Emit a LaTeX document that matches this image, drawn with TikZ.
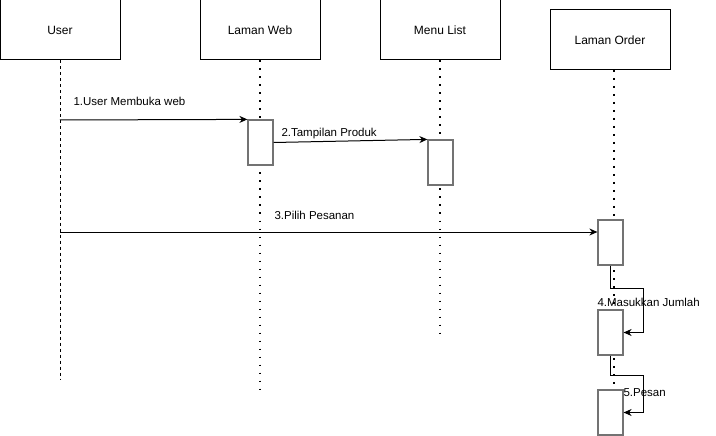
\documentclass[tikz,border=0pt]{standalone}
\usepackage{fontspec}
\setmainfont{Liberation Sans}
\usetikzlibrary{arrows.meta}
\begin{document}
\begin{tikzpicture}[x=1pt,y=-1pt,line width=1pt,
  actor/.style={draw,minimum width=120pt,minimum height=60pt,inner sep=0pt,font=\fontsize{12}{14}\selectfont},
  actbar/.style={draw=black!55,line width=1.2pt,fill=white,minimum width=25pt,minimum height=45pt,inner sep=0pt},
  lifeline/.style={line width=1.6pt,dash pattern=on 1.8pt off 6.2pt},
  msg/.style={-{Stealth[length=8pt,width=7pt]}},
  msglabel/.style={anchor=base west,inner sep=0pt,font=\fontsize{11.5}{13}\selectfont}]
\useasboundingbox (0,0) rectangle (716,436);
% participants
\node[actor] (user) at (60,30) {User};
\node[actor] (web) at (260,30) {Laman Web};
\node[actor] (menu) at (440,30) {Menu List};
\node[actor] (order) at (610,40) {Laman Order};
% lifelines
\coordinate (userend) at (60,380);
\coordinate (webend) at (260,390);
\coordinate (menuend) at (440,340);
\coordinate (ordertop) at (614,70);
\coordinate (orderend) at (614,436);
\draw[dash pattern=on 3pt off 3pt] (user.south) -- (userend);
\draw[lifeline] (web.south) -- (webend);
\draw[lifeline] (menu.south) -- (menuend);
\draw[lifeline] (ordertop) -- (orderend);
% activations
\node[actbar] (webbar) at (260.5,142.5) {};
\node[actbar] (menubar) at (440.5,162.5) {};
\node[actbar] (ordbar1) at (610.5,242.5) {};
\node[actbar] (ordbar2) at (610.5,332.5) {};
\node[actbar] (ordbar3) at (610.5,412.5) {};
% messages
\coordinate (m1) at (60,120);
\coordinate (m3) at (60,232);
\draw[msg] (m1) -- (webbar.north west);
\draw[msg] (webbar.east) -- (menubar.north west);
\draw[msg] (m3) -- (ordbar1.west |- m3);
\draw[msg] (ordbar1.south) -- ++(0,23) -| ([xshift=20pt]ordbar2.east) -- (ordbar2.east);
\draw[msg] (ordbar2.south) -- ++(0,20) -| ([xshift=20pt]ordbar3.east) -- (ordbar3.east);
% labels
\node[msglabel] (l1) at (73,106) {1.User Membuka web};
\node[msglabel] (l2) at (281,136) {2.Tampilan Produk};
\node[msglabel] (l3) at (274,219) {3.Pilih Pesanan};
\node[msglabel] (l4) at (597,306) {4.Masukkan Jumlah};
\node[msglabel] (l5) at (623,396) {5.Pesan};
\end{tikzpicture}
\end{document}
